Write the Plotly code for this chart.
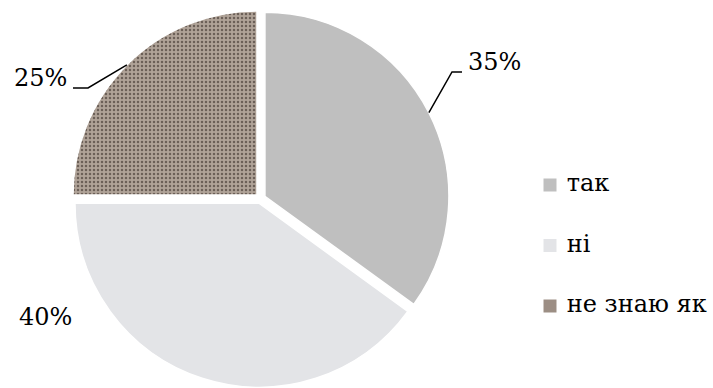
import math
import plotly.graph_objects as go

# ---- data ----
categories = ["так", "ні", "не знаю як"]
values = [35, 40, 25]
pct_labels = ["35%", "40%", "25%"]

# ---- style / layout constants (pixels) ----
W, H = 713, 388
CX, CY = 260.5, 198.5          # pie centre
R, PULL = 184, 0.027           # radius and pull fraction
FONT = "DejaVu Serif"
FSIZE_PCT = 24
FSIZE_LEG = 24
COLORS = ["#bfbfbf", "#e3e4e7", "#a89a8f"]
PAT_SHAPE = ["", "", "."]
PAT_BG = ["#bfbfbf", "#e3e4e7", "#b0a398"]
PAT_FG = ["#bfbfbf", "#e3e4e7", "#6c6058"]
PAT_SIZE = [8, 8, 4]
PAT_SOLID = [0.2, 0.2, 0.3]
LEGEND_COLORS = ["#bfbfbf", "#e3e4e7", "#9c8e84"]

# label centre, leader elbow, leader end (None = no leader)
LABEL_STYLE = [
    {"pos": (494, 62), "elbow": (452, 72), "end": (462, 72)},
    {"pos": (45, 317), "elbow": None, "end": None},
    {"pos": (40, 78), "elbow": (88, 88), "end": (73, 88)},
]
LEG_X0 = 550    # legend marker x
LEG_Y0 = 185    # first legend row y
LEG_DY = 60.5   # legend row spacing


def px(x):
    return x / W


def py(y):
    return 1 - y / H


half = R * (1 + PULL)
dom_x = [px(CX - half), px(CX + half)]
dom_y = [py(CY + half), py(CY - half)]

fig = go.Figure()
fig.add_trace(go.Pie(
    labels=categories,
    values=values,
    sort=False,
    direction="clockwise",
    rotation=0,
    pull=[PULL] * len(values),
    textinfo="none",
    hoverinfo="label+percent",
    showlegend=False,
    domain=dict(x=dom_x, y=dom_y),
    marker=dict(
        colors=COLORS,
        line=dict(color="#ffffff", width=1.5),
        pattern=dict(shape=PAT_SHAPE, fgcolor=PAT_FG, bgcolor=PAT_BG,
                     size=PAT_SIZE, solidity=PAT_SOLID, fillmode="replace"),
    ),
))

# percentage labels and leader lines computed from slice angles
total = sum(values)
cum = 0
annotations = []
shapes = []
for i, v in enumerate(values):
    mid = math.radians(360 * (cum + v / 2) / total)
    cum += v
    d = R * PULL
    ax = CX + (d + R) * math.sin(mid)
    ay = CY - (d + R) * math.cos(mid)
    st = LABEL_STYLE[i]
    annotations.append(dict(
        x=px(st["pos"][0]), y=py(st["pos"][1]), xref="paper", yref="paper",
        text=pct_labels[i], showarrow=False,
        font=dict(family=FONT, size=FSIZE_PCT, color="#000000"),
        xanchor="center", yanchor="middle",
    ))
    if st["elbow"] is not None:
        ex, ey = st["elbow"]
        nx, ny = st["end"]
        shapes.append(dict(
            type="path", xref="paper", yref="paper",
            path=f"M {px(ax)} {py(ay)} L {px(ex)} {py(ey)} L {px(nx)} {py(ny)}",
            line=dict(color="#000000", width=1.5),
        ))

# legend as a marker trace on hidden axes
leg_dom = [530 / W, 1.0]
span_x = 10.0
frac0 = (LEG_X0 - 530) / (W - 530)
x_range = [-frac0 * span_x, (1 - frac0) * span_x]
y_range = [(H - LEG_Y0) / LEG_DY, -LEG_Y0 / LEG_DY]

fig.add_trace(go.Scatter(
    x=[0] * len(categories),
    y=list(range(len(categories))),
    mode="markers+text",
    marker=dict(symbol="square", size=13, color=LEGEND_COLORS,
                line=dict(width=0)),
    text=[" " + c for c in categories],
    textposition="middle right",
    textfont=dict(family=FONT, size=FSIZE_LEG, color="#000000"),
    hoverinfo="skip",
    showlegend=False,
    xaxis="x", yaxis="y",
))

fig.update_layout(
    width=W, height=H,
    margin=dict(l=0, r=0, t=0, b=0),
    paper_bgcolor="#ffffff",
    plot_bgcolor="rgba(0,0,0,0)",
    showlegend=False,
    xaxis=dict(domain=leg_dom, range=x_range, visible=False, fixedrange=True),
    yaxis=dict(domain=[0, 1], range=y_range, visible=False, fixedrange=True),
    annotations=annotations,
    shapes=shapes,
)

fig.write_html("out.html")
